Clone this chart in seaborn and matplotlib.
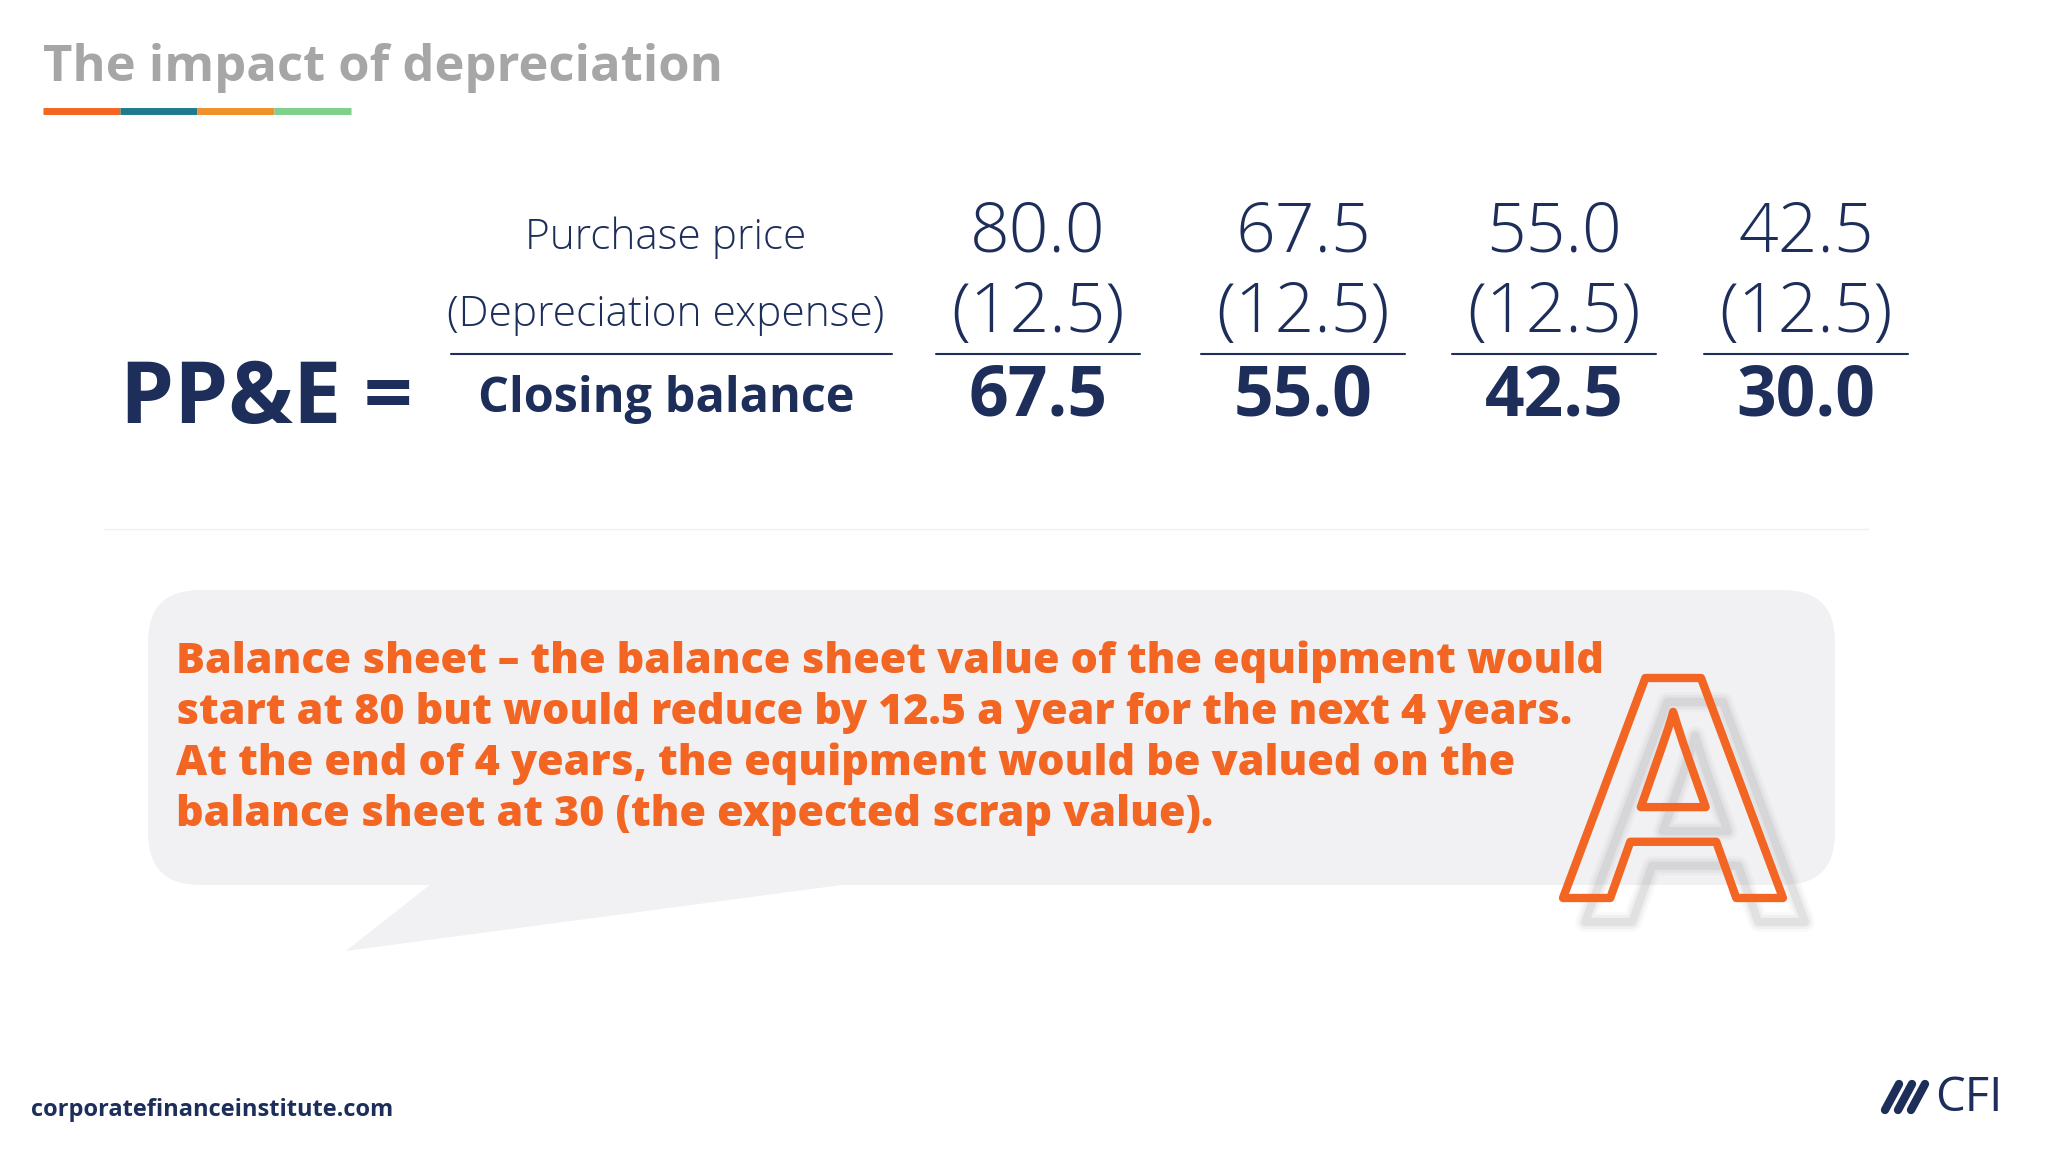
import matplotlib.pyplot as plt
from matplotlib.patches import FancyBboxPatch, Polygon, PathPatch
from matplotlib.textpath import TextPath
from matplotlib.font_manager import FontProperties
from matplotlib.transforms import Affine2D
import seaborn as sns

# values
row_labels = ["Purchase price", "(Depreciation expense)", "Closing balance"]
opening = [80.0, 67.5, 55.0, 42.5]
depreciation = [12.5, 12.5, 12.5, 12.5]
closing = [67.5, 55.0, 42.5, 30.0]
note_lines = [
    "Balance sheet \u2013 the balance sheet value of the equipment would",
    "start at 80 but would reduce by 12.5 a year for the next 4 years.",
    "At the end of 4 years, the equipment would be valued on the",
    "balance sheet at 30 (the expected scrap value).",
]

navy = "#1c2e59"
orange = "#f26522"
bubble = "#f1f1f3"

sns.set_theme(style="white")
plt.rcParams["font.family"] = ["Open Sans", "DejaVu Sans"]

fig = plt.figure(figsize=(20.48, 11.52), dpi=100)
ax = fig.add_axes([0, 0, 1, 1])
ax.set_xlim(0, 2048)
ax.set_ylim(1152, 0)
ax.axis("off")

# title + colour strip
ax.text(43, 68, "The impact of depreciation", fontsize=36.5, fontweight="bold",
        color="#a6a6a6", va="center", ha="left")
for i, c in enumerate(["#f26522", "#1f7a8c", "#f0922b", "#7fcf8d"]):
    ax.plot([43 + i * 77, 43 + (i + 1) * 77], [111, 111], color=c, lw=5,
            solid_capstyle="butt")

# equation block
ax.text(120, 400, "PP&E =", fontsize=62, fontweight="bold", color=navy,
        va="center", ha="left")
ax.text(666, 238, row_labels[0], fontsize=30.5, fontweight="light", color=navy,
        va="center", ha="center")
ax.text(666, 315, row_labels[1], fontsize=30.5, fontweight="light", color=navy,
        va="center", ha="center")
ax.text(666, 400, row_labels[2], fontsize=35, fontweight="bold", color=navy,
        va="center", ha="center")
ax.plot([451, 892], [354, 354], color=navy, lw=1.5)

col_x = [1038, 1303, 1554, 1806]
for x, o, d, c in zip(col_x, opening, depreciation, closing):
    ax.text(x, 233, f"{o:.1f}", fontsize=50, fontweight="light", color=navy,
            va="center", ha="center")
    ax.text(x, 314, f"({d:.1f})", fontsize=50, fontweight="light", color=navy,
            va="center", ha="center")
    ax.text(x, 397, f"{c:.1f}", fontsize=50, fontweight="bold", color=navy,
            va="center", ha="center")
    ax.plot([x - 102, x + 102], [354, 354], color=navy, lw=1.5)

ax.plot([104, 1868], [529, 529], color="#f0f0f0", lw=1)

# speech bubble
ax.add_patch(FancyBboxPatch((148, 590), 1687, 295,
                            boxstyle="round,pad=0,rounding_size=52",
                            fc=bubble, ec="none"))
ax.add_patch(Polygon([(431, 884), (346, 951), (849, 884)], closed=True,
                     fc=bubble, ec="none"))

for i, line in enumerate(note_lines):
    ax.text(176, 662 + i * 51, line, fontsize=31, fontweight="heavy",
            color=orange, va="center", ha="left")

# outlined "A" with soft shadow (outline only, no fill)
fp = FontProperties(family="Liberation Sans", weight="bold")
glyph = TextPath((0, 0), "A", size=300, prop=fp)
ext = glyph.get_extents()


def place(dx, dy):
    # flip y because the axes run top-down; bottom-left of the glyph at (dx, dy)
    return Affine2D().translate(-ext.x0, -ext.y0).scale(220 / ext.width, -220 / ext.height) \
        .translate(dx, dy) + ax.transData


for lw, a in [(14, 0.05), (10, 0.08), (6, 0.14)]:
    ax.add_patch(PathPatch(glyph, fc="none", ec="#8a8a8a", lw=lw, alpha=a,
                           joinstyle="round", transform=place(1585, 922)))
ax.add_patch(PathPatch(glyph, fc="none", ec=orange, lw=6, joinstyle="round",
                       transform=place(1563, 898)))

# footer
ax.text(31, 1110, "corporatefinanceinstitute.com", fontsize=17, fontweight="bold",
        color=navy, va="center", ha="left")
for k in range(3):
    x0 = 1885 + k * 13
    ax.plot([x0, x0 + 14], [1110, 1084], color=navy, lw=6, solid_capstyle="round")
ax.text(1935, 1098, "CFI", fontsize=34, color=navy, va="center", ha="left")

fig.savefig("out.png", dpi=100)
